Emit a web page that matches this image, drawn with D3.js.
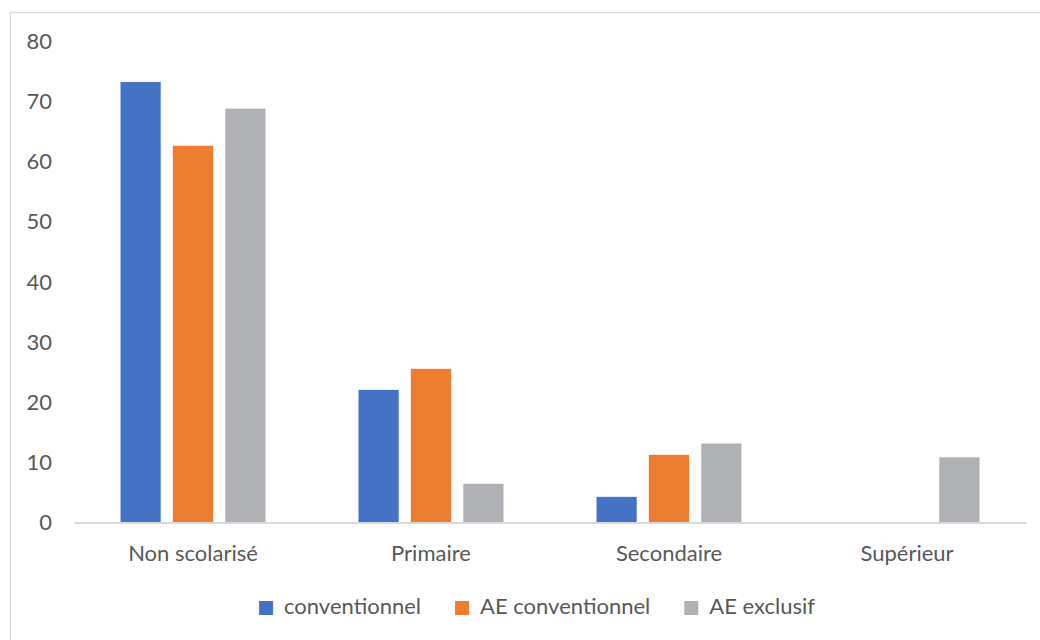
<!DOCTYPE html>
<html><head><meta charset="utf-8">
<script src="https://cdn.jsdelivr.net/npm/d3@7"></script>
<style>body{margin:0;background:#fff;}svg{display:block;}</style>
</head><body>
<svg id="c" width="1040" height="640"></svg>
<script>
const categories = ["Non scolarisé", "Primaire", "Secondaire", "Supérieur"];
const series = ["conventionnel", "AE conventionnel", "AE exclusif"];
const conventionnel = [73.3, 22.1, 4.3, 0];
const aeConventionnel = [62.7, 25.6, 11.3, 0];
const aeExclusif = [68.9, 6.5, 13.2, 10.9];
const yTicks = [0, 10, 20, 30, 40, 50, 60, 70, 80];
const colors = ["#4472C4", "#ED7D31", "#B0B1B5"];

const values = [conventionnel, aeConventionnel, aeExclusif];
const font = "Lato, 'Open Sans', sans-serif";
const fs = "22px";
const txt = "#595959";
const svg = d3.select("#c");

svg.append("rect").attr("x", 10.5).attr("y", 12.5).attr("width", 1100).attr("height", 700)
  .attr("fill", "none").attr("stroke", "#d9d9d9").attr("stroke-width", 1.3);

const x0 = d3.scaleBand().domain(categories).range([74, 1026]).padding(0);
const x1 = d3.scaleBand().domain(series).range([0, x0.bandwidth()]).paddingInner(0.22).paddingOuter(0.88);
const y = d3.scaleLinear().domain([0, 80]).range([522.5, 41.5]);

// y axis labels
const yAxis = d3.axisLeft(y).tickValues(yTicks).tickSize(0).tickPadding(0);
const gy = svg.append("g").attr("transform", "translate(52,0)").call(yAxis);
gy.select(".domain").remove();
gy.selectAll("text").attr("fill", txt).style("font-family", font).style("font-size", fs);

// bars
const groups = svg.append("g").selectAll("g").data(categories).join("g")
  .attr("transform", d => `translate(${x0(d)},0)`);
groups.selectAll("rect").data((c, ci) => series.map((s, si) => ({s, si, v: values[si][ci]})))
  .join("rect")
  .filter(d => d.v > 0)
  .attr("x", d => x1(d.s)).attr("width", x1.bandwidth())
  .attr("y", d => y(d.v)).attr("height", d => y(0) - y(d.v))
  .attr("fill", d => colors[d.si]).attr("stroke", "#fff").attr("stroke-width", 0.6);

// x axis
const xAxis = d3.axisBottom(x0).tickSize(0).tickPadding(0);
const gx = svg.append("g").attr("transform", `translate(0,${y(0)})`).call(xAxis);
gx.select(".domain").attr("stroke", "#d9d9d9").attr("stroke-width", 2);
gx.selectAll("text").attr("fill", txt).style("font-family", font).style("font-size", fs)
  .attr("dy", null).attr("y", 33).attr("dominant-baseline", "middle");

// legend
const leg = svg.append("g");
const items = leg.selectAll("g").data(series).join("g");
items.append("rect").attr("width", 14).attr("height", 14).attr("y", 601).attr("fill", (d, i) => colors[i]);
items.append("text").text(d => d).attr("y", 608).attr("dominant-baseline", "middle")
  .attr("fill", txt).style("font-family", font).style("font-size", fs);
const widths = [];
items.select("text").each(function(){ widths.push(this.getComputedTextLength()); });
const sq = 14, g1 = 11, g2 = 34;
let total = widths.reduce((a, w) => a + sq + g1 + w, 0) + g2 * (widths.length - 1);
let cx = 537 - total / 2;
items.each(function(d, i){
  const g = d3.select(this);
  g.select("rect").attr("x", cx);
  g.select("text").attr("x", cx + sq + g1);
  cx += sq + g1 + widths[i] + g2;
});
</script>
</body></html>
